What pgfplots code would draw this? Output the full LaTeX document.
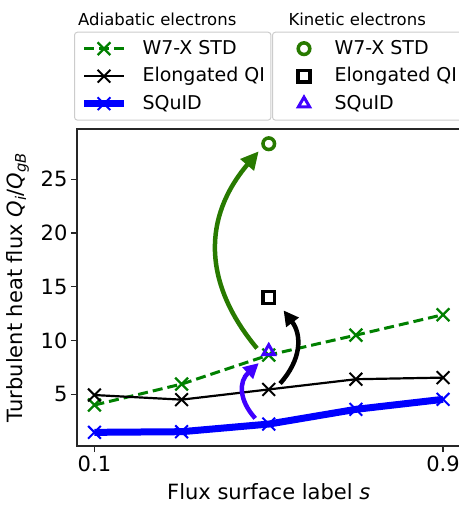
\documentclass[border=0pt]{standalone}
\usepackage{fontspec}
\setmainfont{DejaVu Sans}
\usepackage{pgfplots}
\pgfplotsset{compat=1.18}
\usetikzlibrary{arrows.meta}
\definecolor{mplgreen}{RGB}{0,128,0}
\definecolor{arrgreen}{RGB}{40,122,0}
\definecolor{sqpurple}{RGB}{64,0,255}
\definecolor{sqblue}{RGB}{0,0,255}

\pgfplotsset{
  commonaxis/.style={
    at={(0pt,0pt)}, anchor=south west,
    scale only axis, width=383.5pt, height=317pt,
    xmin=0.06, xmax=0.94, ymin=0.19, ymax=29.67,
  },
  commonlegend/.style={
    anchor=north west, draw=black!20, line width=1pt, rounded corners=3pt,
    fill=white, inner ysep=8pt, row sep=10.5pt,
    font=\fontsize{19}{22}\selectfont,
    nodes={inner xsep=0pt, inner ysep=0pt, text height=14pt, text depth=3pt},
  },
}

\begin{document}
\begin{tikzpicture}
\useasboundingbox (-77pt,-60pt) rectangle (381pt,446pt);
\begin{axis}[
  commonaxis,
  xtick={0.1,0.9}, ytick={5,10,15,20,25},
  xticklabels={0.1,0.9},
  tick align=outside, major tick length=6pt,
  tick pos=left,
  axis line style={line width=1.3pt, black!85},
  every tick/.style={line width=1.3pt, black!85},
  tick label style={font=\fontsize{21}{25}\selectfont},
  /pgf/number format/assume math mode=true,
  label style={font=\fontsize{21}{25}\selectfont},
  xlabel={Flux surface label \textit{s}},
  ylabel={Turbulent heat flux \textit{Q}\textsubscript{\textit{i}}/\textit{Q}\textsubscript{\textit{gB}}},
  xlabel style={at={(axis description cs:0.5,-0.1703)}, anchor=base},
  ylabel style={at={(axis description cs:-0.1551,0.5)}, anchor=center},
  legend style={commonlegend, at={(-0.0078,1.307)}, inner xsep=6pt, column sep=15pt},
  legend cell align=left,
  legend image code/.code={\draw[mark repeat=2,mark phase=2,#1] plot coordinates {(0pt,0pt)(20pt,0pt)(40pt,0pt)};},
]
\addplot[mplgreen, line width=3pt, dash pattern=on 10pt off 5pt, mark=x, mark size=9pt, mark options={solid, line width=2.3pt}]
  coordinates {(0.1,4.0)(0.3,5.95)(0.5,8.65)(0.7,10.5)(0.9,12.4)};
\addlegendentry{W7-X STD}
\addplot[black, line width=2.2pt, mark=x, mark size=9pt, mark options={line width=2pt}]
  coordinates {(0.1,4.93)(0.3,4.5)(0.5,5.45)(0.7,6.4)(0.9,6.55)};
\addlegendentry{Elongated QI}
\addplot[sqblue, line width=7pt, line join=round, mark=x, mark size=9pt, mark options={line width=2pt}]
  coordinates {(0.1,1.46)(0.3,1.52)(0.5,2.23)(0.7,3.6)(0.9,4.53)};
\addlegendentry{SQuID}
\end{axis}

\begin{axis}[
  commonaxis, hide axis,
  legend style={commonlegend, at={(0.5085,1.307)}, inner xsep=11pt, column sep=10pt},
  legend cell align=left,
  legend image code/.code={\path (0pt,0pt) (40pt,0pt); \draw[#1] plot coordinates {(20pt,0pt)};},
]
\draw[arrgreen, line width=4.5pt, -{Triangle[length=18pt,width=17pt]}]
  (axis cs:0.473,9.27) .. controls (axis cs:0.347,15.4) and (axis cs:0.349,21.5) .. (axis cs:0.477,27.6);
\draw[black, line width=4.5pt, -{Triangle[length=15pt,width=15pt]}]
  (axis cs:0.526,6.0) .. controls (axis cs:0.576,8.27) and (axis cs:0.576,10.53) .. (axis cs:0.534,12.8);
\draw[sqpurple, line width=4.5pt, -{Triangle[length=15pt,width=15pt]}]
  (axis cs:0.469,2.76) .. controls (axis cs:0.431,4.47) and (axis cs:0.431,6.19) .. (axis cs:0.477,7.9);
\addplot[only marks, arrgreen, mark=o, mark size=5.8pt, mark options={line width=3.5pt}]
  coordinates {(0.5,28.3)};
\addlegendentry{W7-X STD}
\addplot[only marks, black, mark=square, mark size=5.8pt, mark options={line width=3.5pt}]
  coordinates {(0.5,14.0)};
\addlegendentry{Elongated QI}
\addplot[only marks, sqpurple, mark=triangle, mark size=6.5pt, mark options={line width=3pt}]
  coordinates {(0.5,9.0)};
\addlegendentry{SQuID}
\end{axis}

\node[anchor=base west, inner sep=0pt, font=\fontsize{16.5}{20}\selectfont] at (1pt,420pt) {Adiabatic electrons};
\node[anchor=base west, inner sep=0pt, font=\fontsize{16.5}{20}\selectfont] at (211.3pt,420pt) {Kinetic electrons};
\end{tikzpicture}
\end{document}
